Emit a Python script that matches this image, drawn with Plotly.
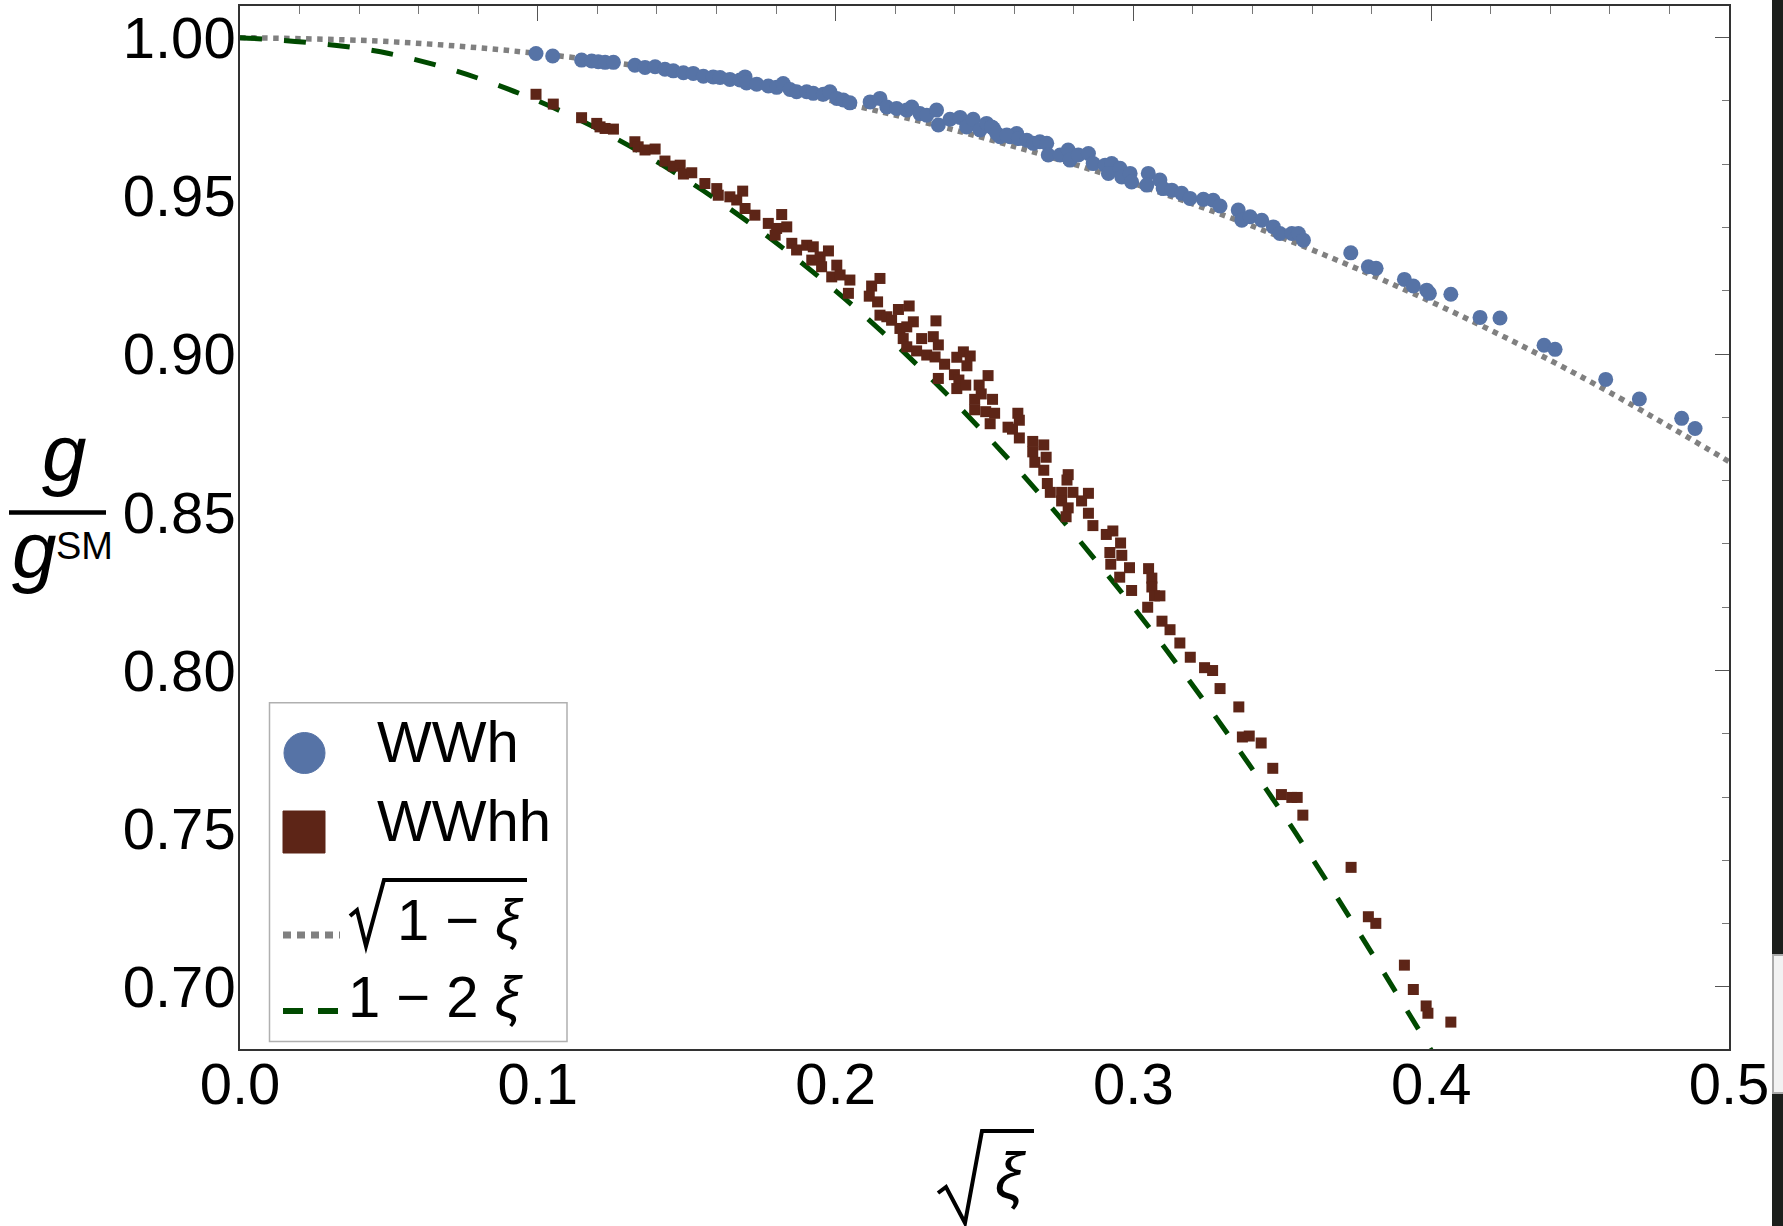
import plotly.graph_objects as go

# ---------------- data ----------------
wwh_x = [0.0994, 0.1050, 0.1147, 0.1181, 0.1203, 0.1226, 0.1254, 0.1326, 0.1360, 0.1394,
         0.1427, 0.1455, 0.1489, 0.1522, 0.1556, 0.1589, 0.1612, 0.1645, 0.1679, 0.1696,
         0.1701, 0.1735, 0.1774, 0.1802, 0.1824, 0.1847, 0.1869, 0.1903, 0.1925, 0.1959,
         0.1981, 0.2004, 0.2026, 0.2048, 0.2116, 0.2149, 0.2172, 0.2205, 0.2239, 0.2256,
         0.2283, 0.2306, 0.2339, 0.2345, 0.2384, 0.2418, 0.2440, 0.2462, 0.2485, 0.2507,
         0.2530, 0.2552, 0.2586, 0.2608, 0.2524, 0.2541, 0.2575, 0.2614, 0.2642, 0.2664,
         0.2686, 0.2709, 0.2714, 0.2754, 0.2781, 0.2787, 0.2815, 0.2849, 0.2865, 0.2905,
         0.2927, 0.2916, 0.2955, 0.2961, 0.2989, 0.2994, 0.3050, 0.3045, 0.3089, 0.3100,
         0.3129, 0.3162, 0.3190, 0.3235, 0.3268, 0.3291, 0.3352, 0.3364, 0.3392, 0.3431,
         0.3470, 0.3492, 0.3532, 0.3554, 0.3571, 0.3730, 0.3789, 0.3815, 0.3910, 0.3940,
         0.3985, 0.3994, 0.4066, 0.4164, 0.4231, 0.4379, 0.4416, 0.4586, 0.4699, 0.4841,
         0.4886]
wwh_y = [0.9950, 0.9942, 0.9929, 0.9926, 0.9924, 0.9922, 0.9922, 0.9913, 0.9906, 0.9908,
         0.9900, 0.9895, 0.9889, 0.9887, 0.9878, 0.9876, 0.9874, 0.9868, 0.9866, 0.9876,
         0.9857, 0.9853, 0.9847, 0.9843, 0.9855, 0.9836, 0.9829, 0.9829, 0.9824, 0.9821,
         0.9829, 0.9808, 0.9803, 0.9794, 0.9797, 0.9808, 0.9781, 0.9776, 0.9771, 0.9781,
         0.9760, 0.9755, 0.9771, 0.9724, 0.9742, 0.9748, 0.9718, 0.9742, 0.9708, 0.9729,
         0.9713, 0.9687, 0.9687, 0.9697, 0.9718, 0.9697, 0.9692, 0.9681, 0.9676, 0.9666,
         0.9671, 0.9666, 0.9629, 0.9629, 0.9645, 0.9613, 0.9629, 0.9634, 0.9602, 0.9597,
         0.9602, 0.9571, 0.9587, 0.9560, 0.9571, 0.9544, 0.9571, 0.9534, 0.9550, 0.9523,
         0.9518, 0.9508, 0.9492, 0.9489, 0.9486, 0.9468, 0.9455, 0.9423, 0.9434, 0.9423,
         0.9402, 0.9381, 0.9381, 0.9381, 0.9360, 0.9320, 0.9276, 0.9271, 0.9236, 0.9215,
         0.9202, 0.9192, 0.9189, 0.9116, 0.9114, 0.9028, 0.9015, 0.8920, 0.8858, 0.8797,
         0.8765]

wwhh_x = [0.0994, 0.1052, 0.1147, 0.1198, 0.1209, 0.1226, 0.1254, 0.1326, 0.1337, 0.1360,
          0.1394, 0.1427, 0.1455, 0.1478, 0.1489, 0.1517, 0.1561, 0.1601, 0.1606, 0.1645,
          0.1668, 0.1688, 0.1696, 0.1729, 0.1774, 0.1819, 0.1802, 0.1836, 0.1797, 0.1853,
          0.1869, 0.1903, 0.1925, 0.1920, 0.1948, 0.1976, 0.1953, 0.2004, 0.1987, 0.2015,
          0.2048, 0.2043, 0.2121, 0.2149, 0.2113, 0.2141, 0.2149, 0.2172, 0.2188, 0.2211,
          0.2247, 0.2216, 0.2261, 0.2239, 0.2227, 0.2239, 0.2289, 0.2272, 0.2306, 0.2337,
          0.2328, 0.2334, 0.2345, 0.2345, 0.2366, 0.2407, 0.2429, 0.2452, 0.2441, 0.2399,
          0.2414, 0.2512, 0.2407, 0.2437, 0.2482, 0.2489, 0.2467, 0.2527, 0.2467, 0.2504,
          0.2534, 0.2519, 0.2579, 0.2612, 0.2617, 0.2594, 0.2617, 0.2662, 0.2699, 0.2662,
          0.2707, 0.2669, 0.2699, 0.2781, 0.2777, 0.2711, 0.2721, 0.2759, 0.2797, 0.2849,
          0.2759, 0.2826, 0.2781, 0.2774, 0.2849, 0.2864, 0.2909, 0.2931, 0.2957, 0.2921,
          0.2961, 0.2924, 0.2987, 0.3051, 0.2954, 0.3062, 0.3062, 0.2994, 0.3071, 0.3089,
          0.3048, 0.3096, 0.3123, 0.3156, 0.3191, 0.3239, 0.3266, 0.3291, 0.3354, 0.3366,
          0.3389, 0.3429, 0.3468, 0.3497, 0.3532, 0.3550, 0.3569, 0.3731, 0.3789, 0.3814,
          0.3910, 0.3940, 0.3983, 0.3989, 0.4066]
wwhh_y = [0.9821, 0.9790, 0.9747, 0.9729, 0.9718, 0.9713, 0.9711, 0.9671, 0.9655, 0.9645,
          0.9648, 0.9610, 0.9594, 0.9597, 0.9569, 0.9573, 0.9539, 0.9523, 0.9502, 0.9497,
          0.9487, 0.9515, 0.9460, 0.9439, 0.9413, 0.9441, 0.9397, 0.9402, 0.9376, 0.9350,
          0.9329, 0.9344, 0.9339, 0.9297, 0.9307, 0.9326, 0.9276, 0.9281, 0.9244, 0.9250,
          0.9234, 0.9192, 0.9215, 0.9239, 0.9183, 0.9165, 0.9123, 0.9118, 0.9107, 0.9141,
          0.9152, 0.9081, 0.9102, 0.9086, 0.9049, 0.9023, 0.9049, 0.9010, 0.8997, 0.9105,
          0.9055, 0.8991, 0.8923, 0.9029, 0.8968, 0.8990, 0.9007, 0.8994, 0.8963, 0.8935,
          0.8918, 0.8932, 0.8891, 0.8902, 0.8902, 0.8874, 0.8857, 0.8857, 0.8824, 0.8818,
          0.8813, 0.8780, 0.8769, 0.8813, 0.8791, 0.8763, 0.8735, 0.8724, 0.8713, 0.8691,
          0.8674, 0.8658, 0.8633, 0.8619, 0.8602, 0.8591, 0.8563, 0.8563, 0.8563, 0.8560,
          0.8536, 0.8536, 0.8514, 0.8486, 0.8497, 0.8458, 0.8430, 0.8441, 0.8403, 0.8373,
          0.8364, 0.8336, 0.8325, 0.8322, 0.8295, 0.8292, 0.8264, 0.8253, 0.8236, 0.8236,
          0.8200, 0.8156, 0.8129, 0.8087, 0.8042, 0.8009, 0.8000, 0.7943, 0.7885, 0.7790,
          0.7793, 0.7771, 0.7691, 0.7608, 0.7599, 0.7599, 0.7543, 0.7378, 0.7222, 0.7201,
          0.7069, 0.6992, 0.6940, 0.6917, 0.6889]

# sqrt(1 - xi) curve values, xi = x^2
curve_x = [0.0, 0.05, 0.10, 0.15, 0.20, 0.25, 0.30, 0.35, 0.40, 0.45, 0.50]
sqrt_curve_y = [1.0, 0.99875, 0.99499, 0.98869, 0.97980, 0.96825, 0.95394, 0.93675,
                0.91652, 0.89303, 0.86603]
# 1 - 2 xi curve values
lin_curve_x = [0.0, 0.05, 0.10, 0.15, 0.20, 0.25, 0.30, 0.35, 0.40]
lin_curve_y = [1.0, 0.995, 0.980, 0.955, 0.920, 0.875, 0.820, 0.755, 0.680]

xtick_vals = [0.0, 0.1, 0.2, 0.3, 0.4, 0.5]
xtick_text = ["0.0", "0.1", "0.2", "0.3", "0.4", "0.5"]
ytick_vals = [0.70, 0.75, 0.80, 0.85, 0.90, 0.95, 1.00]
ytick_text = ["0.70", "0.75", "0.80", "0.85", "0.90", "0.95", "1.00"]

legend_labels = ["WWh", "WWhh", "1 \u2212 <i>\u03be</i>", "1 \u2212 2 <i>\u03be</i>"]
x_title = "<i>\u03be</i>"
y_num = "<i>g</i>"
y_den = "<i>g</i>"
y_den_sup = "SM"

# ---------------- styles / layout ----------------
BLUE = "#5673a6"
BROWN = "#5d2517"
GRAY = "#808080"
GREEN = "#004a00"
FONT = "Liberation Sans, Arial, sans-serif"

W, H = 1783, 1226
L, R, T, B = 240, 1729, 6, 1049


def px(xp):
    return (xp - L) / (R - L)


def py(yp):
    return (B - yp) / (B - T)


fig = go.Figure()

fig.add_trace(go.Scatter(x=curve_x, y=sqrt_curve_y, mode="lines",
                         line=dict(color=GRAY, width=5.5, dash="5.5px,5.5px", shape="spline"),
                         showlegend=False, hoverinfo="skip"))
fig.add_trace(go.Scatter(x=lin_curve_x, y=lin_curve_y, mode="lines",
                         line=dict(color=GREEN, width=5, dash="22px,22px", shape="spline"),
                         showlegend=False, hoverinfo="skip"))
fig.add_trace(go.Scatter(x=wwhh_x, y=wwhh_y, mode="markers",
                         marker=dict(symbol="square", size=11, color=BROWN, line=dict(width=0)),
                         showlegend=False))
fig.add_trace(go.Scatter(x=wwh_x, y=wwh_y, mode="markers",
                         marker=dict(symbol="circle", size=15, color=BLUE, line=dict(width=0)),
                         showlegend=False))
# empty helper trace so that the top/right frame axes are drawn
fig.add_trace(go.Scatter(x=[None], y=[None], xaxis="x2", yaxis="y2", mode="markers",
                         showlegend=False, hoverinfo="skip"))

axis_line = dict(showline=True, linecolor="#333333", linewidth=1.5, showgrid=False,
                 zeroline=False)

fig.update_layout(
    width=W, height=H,
    margin=dict(l=L, r=W - R, t=T, b=H - B, pad=0),
    paper_bgcolor="white", plot_bgcolor="white",
    font=dict(family=FONT, size=58, color="black"),
    showlegend=False,
    xaxis=dict(range=[0, 0.5], tickvals=xtick_vals, ticktext=xtick_text, ticks="",
               tickfont=dict(size=58), ticklabelstandoff=-16, **axis_line),
    yaxis=dict(range=[0.6804, 1.0100], tickvals=ytick_vals, ticktext=ytick_text, ticks="",
               tickfont=dict(size=58), ticklabelstandoff=-9, **axis_line),
    xaxis2=dict(range=[0, 0.5], overlaying="x", side="top", anchor="y2",
                showticklabels=False, ticks="inside", tick0=0, dtick=0.1, ticklen=15,
                tickwidth=1.2, tickcolor="#555555",
                minor=dict(ticks="inside", dtick=0.02, ticklen=8, tickwidth=1,
                           tickcolor="#777777"),
                **axis_line),
    yaxis2=dict(range=[0.6804, 1.0100], overlaying="y", side="right", anchor="x2",
                showticklabels=False, ticks="inside", tick0=0, dtick=0.1, ticklen=14,
                tickwidth=1.2, tickcolor="#555555",
                minor=dict(ticks="inside", dtick=0.02, ticklen=7, tickwidth=1,
                           tickcolor="#777777"),
                **axis_line),
)

shapes = []
annotations = []


def text(s, x, y, size=56, xanchor="left", yanchor="middle"):
    annotations.append(dict(text=s, x=px(x), y=py(y), xref="paper", yref="paper",
                            xanchor=xanchor, yanchor=yanchor, showarrow=False,
                            font=dict(family=FONT, size=size, color="black"),
                            borderpad=0))


# legend box
shapes.append(dict(type="rect", xref="paper", yref="paper",
                   x0=px(269.5), x1=px(567), y0=py(1041.6), y1=py(702.7),
                   line=dict(color="#b0b0b0", width=1.5), fillcolor="white", layer="above"))
shapes.append(dict(type="circle", xref="paper", yref="paper",
                   x0=px(284), x1=px(325), y0=py(773.5), y1=py(732.5),
                   line=dict(color=BLUE, width=1), fillcolor=BLUE, layer="above"))
shapes.append(dict(type="rect", xref="paper", yref="paper",
                   x0=px(283), x1=px(325), y0=py(853), y1=py(811),
                   line=dict(color=BROWN, width=1), fillcolor=BROWN, layer="above"))
shapes.append(dict(type="line", xref="paper", yref="paper",
                   x0=px(283), x1=px(340), y0=py(935), y1=py(935),
                   line=dict(color=GRAY, width=7, dash="8px,6px"), layer="above"))
shapes.append(dict(type="line", xref="paper", yref="paper",
                   x0=px(283), x1=px(339), y0=py(1011), y1=py(1011),
                   line=dict(color=GREEN, width=6, dash="20px,15px"), layer="above"))
# legend radical for sqrt(1 - xi)
shapes.append(dict(type="path", xref="paper", yref="paper",
                   path=(f"M {px(350)},{py(916)} L {px(357)},{py(910)} L {px(366)},{py(946)} "
                         f"L {px(384)},{py(880)} L {px(527)},{py(880)}"),
                   line=dict(color="black", width=4), layer="above"))
text(legend_labels[0], 376, 762 - 0.35 * 58, size=58)
text(legend_labels[1], 376, 841 - 0.35 * 58, size=58)
text(legend_labels[2], 396, 940 - 0.35 * 58, size=58)
text(legend_labels[3], 347, 1017 - 0.35 * 58, size=58)

# x title: radical + xi
shapes.append(dict(type="path", xref="paper", yref="paper",
                   path=(f"M {px(938)},{py(1193)} L {px(946)},{py(1187)} L {px(965)},{py(1223)} "
                         f"L {px(982)},{py(1131)} L {px(1034)},{py(1131)}"),
                   line=dict(color="black", width=4)))
text(x_title, 1010, 1198 - 0.35 * 64, size=64, xanchor="center")

# y title: fraction g / g^SM
shapes.append(dict(type="line", xref="paper", yref="paper",
                   x0=px(9), x1=px(106), y0=py(512.5), y1=py(512.5),
                   line=dict(color="black", width=4.5)))
text(y_num, 64, 480 - 0.35 * 80, size=80, xanchor="center")
text(y_den, 34, 577 - 0.35 * 80, size=80, xanchor="center")
text(y_den_sup, 55, 559 - 0.35 * 38, size=38, xanchor="left")

# dark photographic strip at the right edge of the reference
shapes.append(dict(type="rect", xref="paper", yref="paper",
                   x0=px(1772), x1=px(1790), y0=py(1240), y1=py(-10),
                   line=dict(width=0), fillcolor="#1c1f1c", layer="above"))
shapes.append(dict(type="rect", xref="paper", yref="paper",
                   x0=px(1773), x1=px(1790), y0=py(1093), y1=py(955),
                   line=dict(color="#aaaaaa", width=2), fillcolor="#f2f2f2", layer="above"))

fig.update_layout(shapes=shapes, annotations=annotations)

fig.write_html("out.html")
